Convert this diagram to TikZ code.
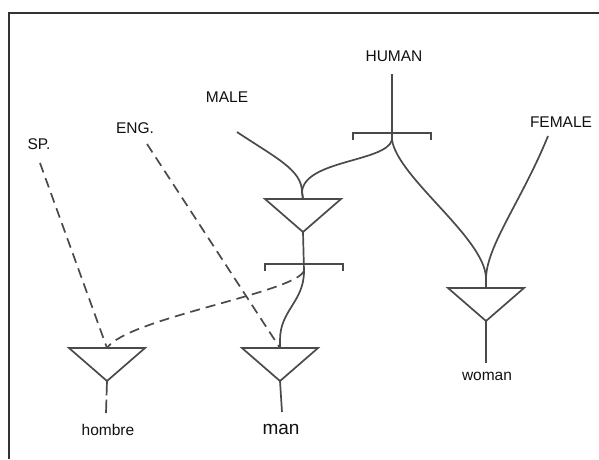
\documentclass[tikz,border=0pt]{standalone}
\usepackage{fontspec}
\setmainfont{Liberation Sans}
\usetikzlibrary{calc}
\definecolor{linegray}{HTML}{4A4A4A}
\definecolor{txtgray}{HTML}{111111}
\definecolor{framegray}{HTML}{333333}
\begin{document}
\begin{tikzpicture}[x=1pt,y=-1pt,
  ink/.style={draw=linegray, line width=1.7pt},
  dashes/.style={ink, dash pattern=on 10pt off 6pt},
  lbl/.style={font=\fontsize{15.5}{16}\selectfont, text=txtgray, inner sep=0pt},
  pics/funnel/.style={code={
    \draw[ink, line join=miter] (-38,0) -- (38,0) -- (0,33) -- cycle;
    \coordinate (-top) at (0,0);
    \coordinate (-tip) at (0,33);
  }},
  pics/bracket/.style={code={
    \draw[ink] (-39,7) -- (-39,0) -- (39,0) -- (39,7);
    \coordinate (-mid) at (0,0);
    \coordinate (-low) at (0,7);
  }}]
\useasboundingbox (0,0) rectangle (599,459);
% frame
\draw[framegray, line width=1.4pt] (9,459) -- (9,13) -- (599,13);

% labels
\node[lbl] (human)  at (394,56)  {HUMAN};
\node[lbl] (male)   at (227,97)  {MALE};
\node[lbl] (eng)    at (135,128) {ENG.};
\node[lbl] (sp)     at (39,144)  {SP.};
\node[lbl] (female) at (561,122) {FEMALE};
\node[lbl] (hombre) at (108,430) {hombre};
\node[lbl, font=\fontsize{19}{20}\selectfont] (man) at (281,429) {man};
\node[lbl] (woman)  at (487,376) {woman};

% brackets and funnels
\pic (bh) at (392,133) {bracket};
\pic (bm) at (304,264) {bracket};
\pic (fmale)   at (303,199) {funnel};
\pic (fman)    at (280,348) {funnel};
\pic (fhombre) at (107,348) {funnel};
\pic (fwoman)  at (486,288) {funnel};

% free line ends under the labels
\coordinate (humanend)  at (392,74);
\coordinate (maleend)   at (237,132);
\coordinate (engend)    at (147,144);
\coordinate (spend)     at (40,163);
\coordinate (femaleend) at (548,136);
\coordinate (hombreend) at (106,413);
\coordinate (manend)    at (282,412);
\coordinate (womanend)  at (486,363);
\coordinate (wjoin)     at (486,278);

% solid connectors
\draw[ink] (humanend) -- (bh-low);
\draw[ink] (bh-low) .. controls (386,162) and (304,160) .. (302,192) -- (fmale-top);
\draw[ink] (maleend) .. controls (276,158) and (302,170) .. (302,192) -- (fmale-top);
\draw[ink] (bh-low) .. controls (398,178) and (485,238) .. (wjoin) -- (fwoman-top);
\draw[ink] (femaleend) .. controls (522,200) and (487,245) .. (wjoin);
\draw[ink] (fmale-tip) -- (bm-low);
\draw[ink] (bm-low) .. controls (304,302) and (280,310) .. (280,340) -- (fman-top);
\draw[ink] (fman-tip) -- (manend);
\draw[ink] (fwoman-tip) -- (womanend);

% dashed connectors
\draw[dashes] (bm-low) .. controls (294,293) and (128,318) .. (fhombre-top);
\draw[dashes] (spend) -- (fhombre-top);
\draw[dashes] (engend) -- (fman-top);
\draw[ink] (fhombre-tip) -- ($(fhombre-tip)!0.45!(hombreend)$);
\draw[ink] ($(fhombre-tip)!0.58!(hombreend)$) -- (hombreend);
\end{tikzpicture}
\end{document}
